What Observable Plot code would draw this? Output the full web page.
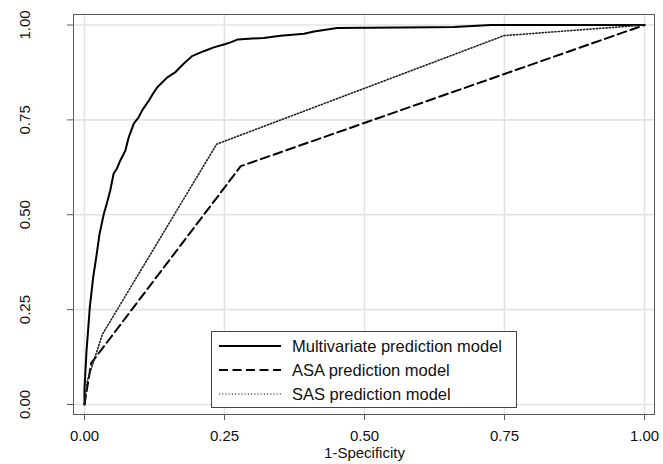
<!DOCTYPE html>
<html>
<head>
<meta charset="utf-8">
<script src="https://cdn.jsdelivr.net/npm/d3@7"></script>
<script src="https://cdn.jsdelivr.net/npm/@observablehq/plot@0.6"></script>
<style>
  html, body { margin: 0; padding: 0; background: #fff; }
  #wrap { position: relative; width: 663px; height: 464px; font-family: "Liberation Sans", Arial, sans-serif; }
  #legend { position: absolute; left: 211px; top: 331px; width: 304px; height: 75px; border: 1px solid #444; background: #fff; box-sizing: content-box; }
  .row { position: absolute; left: 0; height: 24px; display: flex; align-items: center; }
  .row svg { margin-left: 7px; }
  .row span { margin-left: 11px; font-size: 16.5px; color: #111; white-space: nowrap; }
</style>
</head>
<body>
<div id="wrap"></div>
<script>
// ---- data ----
const multiX = [0, 0.0, 0.0036, 0.0095, 0.0155, 0.021, 0.027, 0.0345, 0.040, 0.046, 0.052, 0.058, 0.064, 0.073, 0.079, 0.088, 0.096, 0.103, 0.115, 0.122, 0.130, 0.148, 0.1625, 0.177, 0.192, 0.213, 0.231, 0.252, 0.262, 0.274, 0.320, 0.350, 0.392, 0.410, 0.451, 0.618, 0.660, 0.725, 1.0];
const multiY = [0, 0.04, 0.14, 0.256, 0.335, 0.388, 0.45, 0.502, 0.530, 0.564, 0.608, 0.622, 0.643, 0.669, 0.704, 0.740, 0.755, 0.775, 0.801, 0.818, 0.836, 0.862, 0.876, 0.898, 0.918, 0.931, 0.941, 0.950, 0.955, 0.962, 0.966, 0.972, 0.977, 0.983, 0.992, 0.994, 0.995, 1.0, 1.0];
const asaX = [0, 0.012, 0.279, 1.0];
const asaY = [0, 0.109, 0.628, 1.0];
const sasX = [0, 0.005, 0.032, 0.236, 0.749, 1.0];
const sasY = [0, 0.062, 0.185, 0.686, 0.972, 1.0];
const seriesNames = ["Multivariate prediction model", "ASA prediction model", "SAS prediction model"];
const xTicks = [0, 0.25, 0.5, 0.75, 1];
const yTicks = [0, 0.25, 0.5, 0.75, 1];
const tickLabels = ["0.00", "0.25", "0.50", "0.75", "1.00"];
const xLabel = "1-Specificity";

const toRows = (xs, ys) => xs.map((x, i) => ({x, y: ys[i]}));
const multi = toRows(multiX, multiY);
const asa = toRows(asaX, asaY);
const sas = toRows(sasX, sasY);

const styles = [
  {stroke: "#000", strokeWidth: 2, strokeDasharray: null},
  {stroke: "#000", strokeWidth: 2, strokeDasharray: "9,4.5"},
  {stroke: "#222", strokeWidth: 1.6, strokeDasharray: "1.2,2"}
];

const frameColor = "#5a5a5a";
const gridColor = "#e3e3e3";
const fmt = d => tickLabels[xTicks.indexOf(d)];

const chart = Plot.plot({
  width: 663,
  height: 464,
  marginLeft: 73,
  marginRight: 9,
  marginTop: 14,
  marginBottom: 50,
  x: {domain: [-0.0196, 1.0178]},
  y: {domain: [-0.0264, 1.0277]},
  style: {fontFamily: "Liberation Sans, Arial, sans-serif", background: "#fff", color: "#111"},
  marks: [
    Plot.gridX(xTicks, {stroke: gridColor, strokeOpacity: 1, strokeWidth: 1.6}),
    Plot.gridY(yTicks, {stroke: gridColor, strokeOpacity: 1, strokeWidth: 1.6}),
    Plot.frame({stroke: frameColor, strokeWidth: 1}),
    Plot.axisX(xTicks, {tickSize: 6, stroke: frameColor, tickFormat: () => "", label: null}),
    Plot.axisY(yTicks, {tickSize: 6, stroke: frameColor, tickFormat: () => "", label: null}),
    Plot.text(xTicks, {x: d => d, text: fmt, frameAnchor: "bottom", dy: 22, lineAnchor: "middle", fontSize: 15, fill: "#111"}),
    Plot.text(yTicks, {y: d => d, text: fmt, frameAnchor: "left", dx: -48, rotate: -90, textAnchor: "middle", lineAnchor: "middle", fontSize: 15, fill: "#111"}),
    Plot.text([xLabel], {x: 0.5, text: d => d, frameAnchor: "bottom", dy: 38.5, lineAnchor: "middle", fontSize: 15, fill: "#111"}),
    Plot.line(multi, {x: "x", y: "y", ...styles[0], strokeLinejoin: "round"}),
    Plot.line(asa, {x: "x", y: "y", ...styles[1]}),
    Plot.line(sas, {x: "x", y: "y", ...styles[2]})
  ]
});

const wrap = document.getElementById("wrap");
wrap.appendChild(chart);

// legend inside the plot region
const legend = document.createElement("div");
legend.id = "legend";
const rowTops = [2, 26, 50];
seriesNames.forEach((name, i) => {
  const row = document.createElement("div");
  row.className = "row";
  row.style.top = rowTops[i] + "px";
  const s = styles[i];
  row.innerHTML = `<svg width="62" height="6"><line x1="0" y1="3" x2="62" y2="3" stroke="${s.stroke}" stroke-width="${i === 2 ? 1.2 : s.strokeWidth}" ${s.strokeDasharray ? `stroke-dasharray="${s.strokeDasharray}"` : ""}/></svg><span>${name}</span>`;
  legend.appendChild(row);
});
wrap.appendChild(legend);
</script>
</body>
</html>
